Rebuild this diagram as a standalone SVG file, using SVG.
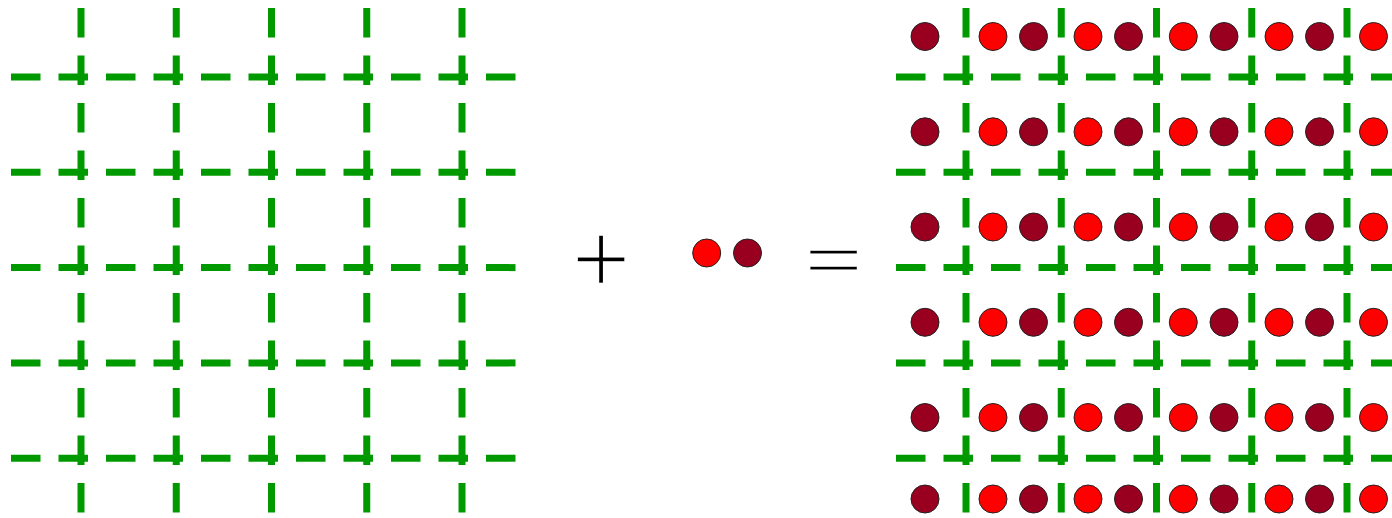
<svg xmlns="http://www.w3.org/2000/svg" width="1392" height="518" viewBox="0 0 1392 518">
<style>
.g{stroke:#009900;stroke-width:7;stroke-dasharray:29.5 18;fill:none;stroke-linecap:butt}
.r{fill:#ff0000;stroke:#222;stroke-width:1}
.d{fill:#990020;stroke:#222;stroke-width:1}
.op{font-family:"Liberation Serif",serif;font-size:103px;fill:#000;text-anchor:middle;stroke:#fff;stroke-width:1.4}
</style>
<rect width="1392" height="518" fill="#fff"/>
<g id="grid-left">
<line class="g" x1="11" y1="77" x2="516" y2="77"/>
<line class="g" x1="11" y1="172.3" x2="516" y2="172.3"/>
<line class="g" x1="11" y1="267.6" x2="516" y2="267.6"/>
<line class="g" x1="11" y1="362.9" x2="516" y2="362.9"/>
<line class="g" x1="11" y1="458.2" x2="516" y2="458.2"/>
<line class="g" x1="81" y1="8" x2="81" y2="513"/>
<line class="g" x1="176.25" y1="8" x2="176.25" y2="513"/>
<line class="g" x1="271.5" y1="8" x2="271.5" y2="513"/>
<line class="g" x1="366.75" y1="8" x2="366.75" y2="513"/>
<line class="g" x1="462" y1="8" x2="462" y2="513"/>
</g>
<g id="plus"><text class="op" x="601" y="293.5">+</text></g>
<g id="pair">
<circle class="r" cx="706.7" cy="253" r="14"/>
<circle class="d" cx="747.5" cy="253" r="14"/>
</g>
<g id="equals" transform="translate(833.5,261.3) scale(1,0.76)"><text class="op" x="0" y="32.5">=</text></g>
<g id="grid-right">
<line class="g" x1="896" y1="77" x2="1401" y2="77"/>
<line class="g" x1="896" y1="172.3" x2="1401" y2="172.3"/>
<line class="g" x1="896" y1="267.6" x2="1401" y2="267.6"/>
<line class="g" x1="896" y1="362.9" x2="1401" y2="362.9"/>
<line class="g" x1="896" y1="458.2" x2="1401" y2="458.2"/>
<line class="g" x1="966" y1="8" x2="966" y2="513"/>
<line class="g" x1="1061.25" y1="8" x2="1061.25" y2="513"/>
<line class="g" x1="1156.5" y1="8" x2="1156.5" y2="513"/>
<line class="g" x1="1251.75" y1="8" x2="1251.75" y2="513"/>
<line class="g" x1="1347" y1="8" x2="1347" y2="513"/>
</g>
<defs>
<g id="row">
<circle class="d" cx="925" cy="0" r="14"/>
<circle class="r" cx="993" cy="0" r="14"/>
<circle class="d" cx="1033.5" cy="0" r="14"/>
<circle class="r" cx="1088" cy="0" r="14"/>
<circle class="d" cx="1128.5" cy="0" r="14"/>
<circle class="r" cx="1183.3" cy="0" r="14"/>
<circle class="d" cx="1224" cy="0" r="14"/>
<circle class="r" cx="1279" cy="0" r="14"/>
<circle class="d" cx="1319.5" cy="0" r="14"/>
<circle class="r" cx="1373.5" cy="0" r="14"/>
</g>
</defs>
<g id="particles">
<use href="#row" y="36.5"/>
<use href="#row" y="131.8"/>
<use href="#row" y="227"/>
<use href="#row" y="322.3"/>
<use href="#row" y="417.5"/>
<use href="#row" y="499"/>
</g>
</svg>
